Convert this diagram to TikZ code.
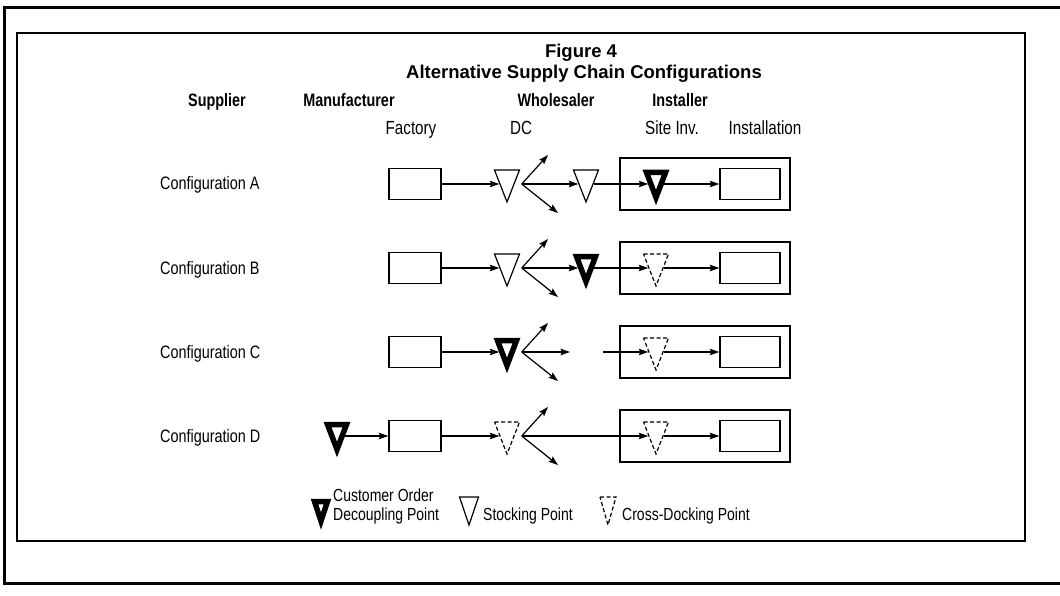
\documentclass[tikz,border=0pt]{standalone}
\usepackage{fontspec}
\setmainfont{Liberation Sans}
\newfontfamily\condfont{Liberation Sans}[FakeStretch=0.8]
\usetikzlibrary{arrows.meta}
% triangle: style, name, x, y(row), half width, top offset, apex offset
\newcommand\mytri[7]{\node[tnode] (#2) at (#3,#4) {};
  \draw[#1] (#2.center) ++(-#5,-#6) -- ++(2*#5,0) -- ++(-#5,#6+#7) -- cycle;}
% fan of arrows: triangle name, row y
\newcommand\myfan[2]{\coordinate (#1o) at ([xshift=7pt]#1.east);
  \coordinate (#1u) at (548,#2-29);
  \coordinate (#1d) at (558,#2+29);
  \draw[arr] (#1o) -- (#1u);
  \draw[arr] (#1o) -- (#1d);}
\begin{document}
\begin{tikzpicture}[x=1pt,y=-1pt,
  arr/.style={-{Stealth[length=9.5pt,width=6.5pt,inset=1.5pt]}, line width=1.2pt},
  fbox/.style={draw, line width=1.4pt, minimum width=52pt, minimum height=31pt, inner sep=0pt},
  nbox/.style={draw, line width=1.4pt, minimum width=60pt, minimum height=31pt, inner sep=0pt},
  ibox/.style={draw, line width=2.4pt, minimum width=170pt, minimum height=52pt, inner sep=0pt},
  tnode/.style={inner sep=0pt, minimum width=15pt, minimum height=0pt, draw=none},
  stock/.style={line width=1.2pt, line join=miter},
  cod/.style={line width=5.5pt, line join=miter},
  xdock/.style={line width=1.2pt, dash pattern=on 4pt off 2.5pt},
  lab/.style={font=\condfont\fontsize{18}{21}\selectfont, inner sep=0pt, anchor=base west},
  head/.style={font=\condfont\bfseries\fontsize{18}{21}\selectfont, inner sep=0pt, anchor=base},
  sub/.style={font=\condfont\fontsize{19}{22}\selectfont, inner sep=0pt, anchor=base},
  ttl/.style={font=\bfseries\fontsize{18.5}{22}\selectfont, inner sep=0pt, anchor=base},
  leg/.style={font=\condfont\fontsize{17.5}{19}\selectfont, inner sep=0pt, align=left, anchor=west},
]
\useasboundingbox (0,0) rectangle (1060,596);
\fill[white] (0,0) rectangle (1060,596);
% frames
\draw[line width=3pt] (1065,8) -- (4,8) -- (4,583) -- (1065,583);
\draw[line width=1.5pt] (17,33) rectangle (1025,541);
% titles
\node[ttl] (t1) at (581,58) {Figure 4};
\node[ttl] (t2) at (584,79) {Alternative Supply Chain Configurations};
% headers
\node[head] (hS) at (217,107) {Supplier};
\node[head] (hM) at (349,107) {Manufacturer};
\node[head] (hW) at (556,107) {Wholesaler};
\node[head] (hI) at (680,107) {Installer};
\node[sub] (sF) at (411,135) {Factory};
\node[sub] (sD) at (521,135) {DC};
\node[sub] (sS) at (672,135) {Site Inv.};
\node[sub] (sI) at (765,135) {Installation};

% ---------------- Configuration A (y=184)
\node[lab] (lA) at (160,190) {Configuration A};
\node[ibox] (iA) at (705,184) {};
\node[fbox] (fA) at (415,184) {};
\mytri{stock}{dA}{507}{184}{12.5}{14}{18}
\mytri{stock}{wA}{586}{184}{12.5}{14}{18}
\mytri{cod}{sA}{656}{184}{9.5}{11.5}{13.5}
\node[nbox] (nA) at (750,184) {};
\draw[arr] (fA.east) -- (dA.west);
\myfan{dA}{184}
\draw[arr] (dAo) -- (wA.west);
\draw[arr] (wA.east) -- (sA.west);
\draw[arr] (sA.east) -- (nA.west);

% ---------------- Configuration B (y=268)
\node[lab] (lB) at (160,274) {Configuration B};
\node[ibox] (iB) at (705,268) {};
\node[fbox] (fB) at (415,268) {};
\mytri{stock}{dB}{507}{268}{12.5}{14}{18}
\mytri{cod}{wB}{586}{268}{9.5}{11.5}{13.5}
\mytri{xdock}{sB}{656}{268}{12.5}{14}{18}
\node[nbox] (nB) at (750,268) {};
\draw[arr] (fB.east) -- (dB.west);
\myfan{dB}{268}
\draw[arr] (dBo) -- (wB.west);
\draw[arr] (wB.east) -- (sB.west);
\draw[arr] (sB.east) -- (nB.west);

% ---------------- Configuration C (y=352)
\node[lab] (lC) at (160,358) {Configuration C};
\node[ibox] (iC) at (705,352) {};
\node[fbox] (fC) at (415,352) {};
\mytri{cod}{dC}{507}{352}{9.5}{11.5}{13.5}
\mytri{xdock}{sC}{656}{352}{12.5}{14}{18}
\node[nbox] (nC) at (750,352) {};
\draw[arr] (fC.east) -- (dC.west);
\myfan{dC}{352}
\coordinate (rC) at (570,352);
\coordinate (cC) at (603,352);
\draw[arr] (dCo) -- (rC);
\draw[arr] (cC) -- (sC.west);
\draw[arr] (sC.east) -- (nC.west);

% ---------------- Configuration D (y=436)
\node[lab] (lD) at (160,442) {Configuration D};
\node[ibox] (iD) at (705,436) {};
\mytri{cod}{pD}{337}{436}{9.5}{11.5}{13.5}
\node[fbox] (fD) at (415,436) {};
\mytri{xdock}{dD}{507}{436}{12.5}{14}{18}
\mytri{xdock}{sD}{656}{436}{12.5}{14}{18}
\node[nbox] (nD) at (750,436) {};
\draw[arr] (pD.east) -- (fD.west);
\draw[arr] (fD.east) -- (dD.west);
\myfan{dD}{436}
\draw[arr] (dDo) -- (sD.west);
\draw[arr] (sD.east) -- (nD.west);

% ---------------- legend
\mytri{cod}{gC}{321}{511}{6.5}{9.5}{10}
\node[leg] (gCt) at (333,506.5) {Customer Order\\Decoupling Point};
\mytri{stock}{gS}{469}{510}{9.5}{13}{15}
\node[leg] (gSt) at (483,516) {Stocking Point};
\mytri{xdock}{gX}{608}{510}{8}{13}{15}
\node[leg] (gXt) at (622,516) {Cross-Docking Point};
\end{tikzpicture}
\end{document}
